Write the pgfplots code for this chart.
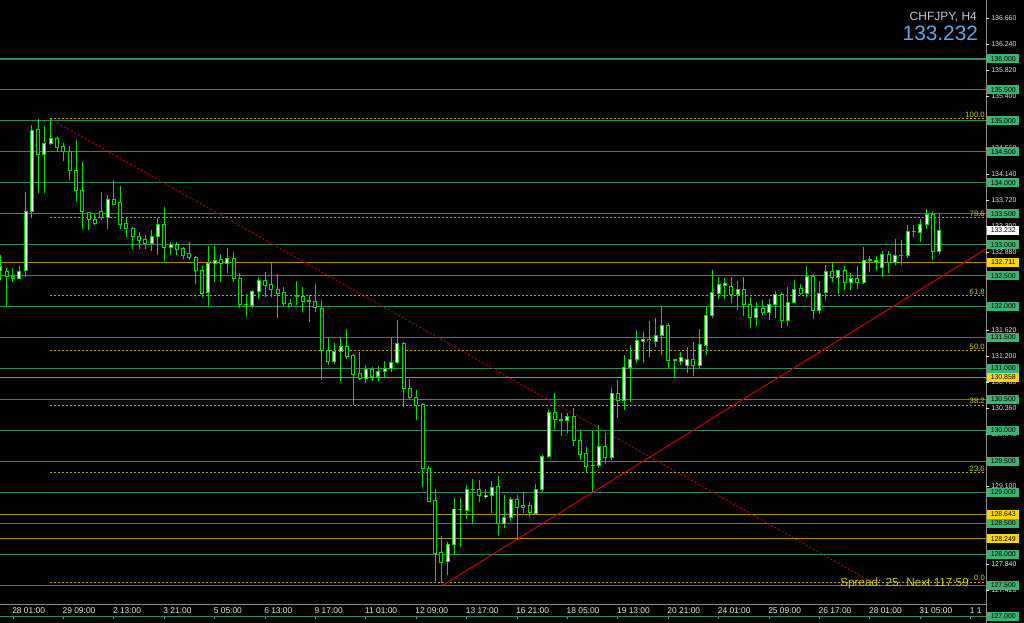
\documentclass[border=0pt]{standalone}
\usepackage{fontspec}
\setmainfont{Liberation Sans}
\usepackage{pgfplots}
\usepackage{pgfplotstable}
\pgfplotsset{compat=1.18}
\definecolor{gridgreen}{RGB}{46,139,87}
\definecolor{boxgreen}{RGB}{60,179,113}
\definecolor{goldline}{RGB}{172,142,16}
\definecolor{boxgold}{RGB}{255,215,0}
\definecolor{fibline}{RGB}{190,170,0}
\definecolor{fibtext}{RGB}{205,205,0}
\definecolor{redline}{RGB}{200,0,0}
\definecolor{reddash}{RGB}{170,0,0}
\definecolor{candle}{RGB}{0,220,0}
\definecolor{titlegray}{RGB}{185,205,225}
\definecolor{pricecol}{RGB}{90,170,235}
\definecolor{tickwhite}{RGB}{230,230,230}
\definecolor{frame}{RGB}{140,140,140}

% H4 bars, i = bar index (0 = 28 01:00)
\pgfplotstableread{
i o h l c
-2 132.58 132.83 132.43 132.64
-1 132.57 132.62 132.00 132.48
0 132.49 132.62 132.39 132.45
1 132.45 132.66 132.44 132.56
2 132.58 133.85 132.48 133.53
3 133.53 134.93 133.43 134.84
4 134.86 135.03 133.84 134.45
5 134.45 134.92 133.84 134.64
6 134.64 135.04 134.61 134.72
7 134.72 134.74 134.50 134.57
8 134.58 134.64 134.35 134.50
9 134.50 134.59 134.04 134.20
10 134.20 134.69 133.70 133.87
11 133.88 134.33 133.26 133.53
12 133.52 133.53 133.23 133.41
13 133.41 133.51 133.32 133.35
14 133.53 133.85 133.40 133.44
15 133.44 133.81 133.25 133.73
16 133.73 134.05 133.64 133.65
17 133.68 133.95 133.26 133.32
18 133.34 133.44 133.13 133.26
19 133.26 133.29 132.93 133.13
20 133.14 133.21 132.93 133.07
21 133.08 133.16 132.93 133.02
22 133.02 133.24 132.89 133.13
23 133.13 133.43 132.83 133.33
24 133.33 133.61 132.73 132.95
25 132.95 133.05 132.83 133.01
26 133.01 133.04 132.83 132.93
27 132.94 132.97 132.77 132.82
28 132.85 133.04 132.75 132.79
29 132.80 132.81 132.36 132.58
30 132.59 132.66 132.16 132.21
31 132.22 132.98 132.00 132.70
32 132.70 132.98 132.39 132.75
33 132.76 132.85 132.40 132.70
34 132.70 132.95 132.54 132.77
35 132.77 132.88 132.40 132.46
36 132.46 132.54 131.97 132.03
37 132.04 132.20 131.84 132.03
38 132.01 132.27 131.97 132.25
39 132.24 132.48 132.13 132.42
40 132.42 132.56 132.16 132.34
41 132.36 132.71 132.16 132.27
42 132.27 132.53 131.81 132.21
43 132.22 132.31 132.01 132.05
44 132.05 132.13 131.99 132.00
45 132.18 132.42 132.03 132.17
46 132.17 132.32 131.92 132.09
47 132.10 132.19 131.75 132.09
48 132.09 132.36 131.92 131.98
49 131.97 132.11 130.81 131.29
50 131.29 131.49 131.06 131.12
51 131.12 131.41 131.08 131.27
52 131.27 131.51 130.79 131.36
53 131.36 131.63 131.16 131.20
54 131.21 131.24 130.41 130.91
55 130.92 131.27 130.81 130.84
56 130.84 131.06 130.76 130.99
57 130.99 131.03 130.80 130.87
58 130.87 131.04 130.80 130.95
59 130.95 131.12 130.84 131.00
60 131.00 131.49 130.95 131.09
61 131.09 131.79 131.08 131.40
62 131.40 131.43 130.37 130.68
63 130.68 130.83 130.49 130.53
64 130.53 130.65 130.17 130.41
65 130.42 130.45 129.09 129.39
66 129.39 129.42 128.84 128.85
67 128.86 129.06 127.56 128.01
68 128.02 128.29 127.53 127.87
69 127.88 128.19 127.66 128.16
70 128.15 128.90 127.98 128.73
71 128.73 128.91 128.12 128.72
72 128.71 129.12 128.57 129.04
73 129.05 129.21 128.50 129.04
74 129.04 129.20 128.85 128.95
75 128.93 129.05 128.89 128.95
76 128.94 129.18 128.66 129.07
77 129.09 129.26 128.29 128.49
78 128.49 128.95 128.43 128.60
79 128.60 128.92 128.54 128.88
80 128.88 128.96 128.23 128.76
81 128.78 129.01 128.67 128.76
82 128.78 128.85 128.60 128.67
83 128.66 129.14 128.63 129.04
84 129.05 129.60 129.01 129.58
85 129.58 130.33 129.55 130.29
86 130.29 130.60 130.02 130.17
87 130.17 130.28 129.91 130.16
88 130.16 130.28 129.95 130.22
89 130.22 130.36 129.74 129.83
90 129.83 129.99 129.52 129.61
91 129.63 129.73 129.33 129.41
92 129.44 129.99 129.00 129.43
93 129.44 130.09 129.40 129.74
94 129.74 129.96 129.46 129.56
95 129.56 130.68 129.52 130.60
96 130.60 130.81 130.20 130.48
97 130.49 131.21 130.33 131.01
98 131.01 131.38 130.46 131.15
99 131.15 131.62 131.09 131.45
100 131.44 131.59 131.09 131.47
101 131.47 131.76 131.19 131.45
102 131.44 131.81 131.35 131.54
103 131.54 132.01 131.22 131.70
104 131.70 131.74 130.99 131.13
105 131.14 131.14 130.85 131.13
106 131.12 131.26 131.06 131.18
107 131.05 131.34 130.93 131.14
108 131.14 131.42 130.88 131.05
109 131.05 131.63 130.99 131.38
110 131.37 132.01 131.22 131.85
111 131.85 132.59 131.81 132.22
112 132.21 132.47 132.13 132.35
113 132.34 132.46 132.13 132.37
114 132.33 132.47 132.05 132.19
115 132.19 132.41 131.94 132.27
116 132.28 132.47 131.84 132.03
117 132.04 132.16 131.66 131.82
118 131.82 132.08 131.68 131.97
119 131.97 132.11 131.86 131.90
120 131.91 132.12 131.78 132.04
121 132.03 132.25 131.81 132.19
122 132.19 132.24 131.66 131.77
123 131.77 132.32 131.68 132.07
124 132.07 132.43 132.05 132.28
125 132.29 132.36 132.19 132.21
126 132.21 132.66 132.16 132.48
127 132.48 132.52 131.80 131.94
128 131.94 132.41 131.88 132.21
129 132.22 132.67 132.11 132.57
130 132.57 132.70 132.40 132.47
131 132.47 132.59 132.20 132.58
132 132.58 132.66 132.27 132.39
133 132.39 132.54 132.27 132.46
134 132.46 132.65 132.28 132.39
135 132.39 132.96 132.37 132.75
136 132.76 132.82 132.56 132.75
137 132.71 132.81 132.59 132.75
138 132.63 132.90 132.47 132.84
139 132.84 132.89 132.55 132.71
140 132.71 133.09 132.67 132.82
141 132.83 133.07 132.67 132.82
142 132.82 133.32 132.78 133.21
143 133.22 133.31 133.13 133.21
144 133.20 133.41 133.05 133.32
145 133.32 133.57 133.25 133.49
146 133.49 133.52 132.76 132.89
147 132.89 133.51 132.85 133.23
}\candles

\begin{document}
\begin{tikzpicture}
\path[use as bounding box, fill=black] (0,0) rectangle (768pt,467.25pt);
\begin{axis}[
  at={(0pt,3pt)}, anchor=south west,
  scale only axis, width=739.5pt, height=464.25pt,
  xmin=-2.063, xmax=154.44, ymin=126.953, ymax=136.953,
  axis line style={draw=none},
  xtick={0,8,...,152}, xticklabels={}, xtick pos=left,
  tick align=inside, major tick length=1.5pt,
  tick style={draw=frame, line width=0.6pt},
  ytick=\empty,
  clip mode=individual,
]
% horizontal levels
\pgfplotsinvokeforeach{127,127.5,128,128.5,129,129.5,130,130.5,131,131.5,132,132.5,133,133.5,134,134.5,135,135.5,136}{
  \addplot[gridgreen, line width=0.8pt] coordinates {(-3,#1) (160,#1)};
}
\pgfplotsinvokeforeach{132.711,130.858,128.643,128.249}{
  \addplot[goldline, line width=1pt] coordinates {(-3,#1) (160,#1)};
}
% fibonacci levels
\pgfplotsinvokeforeach{127.55,129.3165,130.4093,131.2925,132.1757,133.4332,135.035}{
  \addplot[fibline, line width=0.75pt, dash pattern=on 1.5pt off 1.5pt] coordinates {(5.87,#1) (160,#1)};
}
\addplot[reddash, line width=0.75pt, dash pattern=on 1.5pt off 1.5pt] coordinates {(5.87,135.035) (136.3,127.55)};
\addplot[redline, line width=0.75pt] coordinates {(68.25,127.50) (160,133.28)};

% candles
\addplot[candle, line width=0.75pt, quiver={u=0, v=\thisrow{h}-\thisrow{l}}]
  table[x=i, y=l] {\candles};
\addplot[candle, line width=3pt, quiver={u=0, v=abs(\thisrow{c}-\thisrow{o})+0.016}]
  table[x=i, y expr={min(\thisrow{o},\thisrow{c})-0.008}] {\candles};
\addplot[white, line width=1.5pt,
  quiver={u=0, v=\thisrow{c}-\thisrow{o}, every arrow/.append style={shorten <=0.375pt, shorten >=0.375pt}},
  restrict expr to domain={\thisrow{c}-\thisrow{o}}{0.02:100}]
  table[x=i, y=o] {\candles};
\addplot[black, line width=1.5pt,
  quiver={u=0, v=\thisrow{o}-\thisrow{c}, every arrow/.append style={shorten <=0.375pt, shorten >=0.375pt}},
  restrict expr to domain={\thisrow{o}-\thisrow{c}}{0.02:100}]
  table[x=i, y=c] {\candles};

% frame
\draw[frame, line width=0.75pt] (axis cs:-2.063,127.195) -- (axis cs:154.44,127.195);
\draw[frame, line width=0.75pt] (axis cs:154.44,136.96) -- (axis cs:154.44,126.88);

% fib labels
\begin{scope}[every node/.style={anchor=south east, inner sep=0pt, yshift=0.6pt, text=fibtext, font=\fontsize{5.8}{6}\selectfont}]
\node at (axis cs:154.29,127.55) {0.0};
\node at (axis cs:154.29,129.3165) {23.6};
\node at (axis cs:154.29,130.4093) {38.2};
\node at (axis cs:154.29,131.2925) {50.0};
\node at (axis cs:154.29,132.1757) {61.8};
\node at (axis cs:154.29,133.4332) {78.6};
\node at (axis cs:154.29,135.035) {100.0};
\end{scope}
\node[anchor=base east, inner sep=0pt, text=fibtext, font=\fontsize{8.8}{10}\selectfont] at (axis cs:151.75,127.486) {Spread: 25. Next 117:59};

% price scale
\pgfplotsinvokeforeach{127.420,127.840,129.100,129.940,130.360,130.780,131.200,131.620,132.460,132.880,133.300,133.720,134.140,134.560,135.400,135.820,136.240,136.660}{
  \draw[tickwhite, line width=0.6pt] (axis cs:154.44,#1) -- (axis cs:154.92,#1);
  \node[anchor=west, inner sep=0pt, text=tickwhite, font=\fontsize{5.2}{6}\selectfont] at (axis cs:155.24,#1) {#1};
}
\pgfplotsinvokeforeach{127.000,127.500,128.000,128.500,129.000,129.500,130.000,130.500,131.000,131.500,132.000,132.500,133.000,133.500,134.000,134.500,135.000,135.500,136.000}{
  \node[anchor=west, inner sep=0pt, fill=boxgreen, minimum width=24pt, minimum height=6.75pt, text=black, font=\fontsize{5.2}{6}\selectfont] at (axis cs:154.60,#1) {#1};
}
\pgfplotsinvokeforeach{132.711,130.858,128.643,128.249}{
  \node[anchor=west, inner sep=0pt, fill=boxgold, minimum width=24pt, minimum height=6.75pt, text=black, font=\fontsize{5.2}{6}\selectfont] at (axis cs:154.60,#1) {#1};
}
\node[anchor=west, inner sep=0pt, fill=white, minimum width=24pt, minimum height=6.75pt, text=black, font=\fontsize{5.2}{6}\selectfont] at (axis cs:154.60,133.232) {133.232};

% time scale
\begin{scope}[every node/.style={anchor=base west, inner sep=0pt, text=tickwhite, font=\fontsize{6.3}{7}\selectfont}]
\node at (axis cs:-0.16,127.034) {28 01:00};
\node at (axis cs:7.84,127.034) {29 09:00};
\node at (axis cs:15.84,127.034) {2 13:00};
\node at (axis cs:23.84,127.034) {3 21:00};
\node at (axis cs:31.84,127.034) {5 05:00};
\node at (axis cs:39.84,127.034) {6 13:00};
\node at (axis cs:47.84,127.034) {9 17:00};
\node at (axis cs:55.84,127.034) {11 01:00};
\node at (axis cs:63.84,127.034) {12 09:00};
\node at (axis cs:71.84,127.034) {13 17:00};
\node at (axis cs:79.84,127.034) {16 21:00};
\node at (axis cs:87.84,127.034) {18 05:00};
\node at (axis cs:95.84,127.034) {19 13:00};
\node at (axis cs:103.84,127.034) {20 21:00};
\node at (axis cs:111.84,127.034) {24 01:00};
\node at (axis cs:119.84,127.034) {25 09:00};
\node at (axis cs:127.84,127.034) {26 17:00};
\node at (axis cs:135.84,127.034) {28 01:00};
\node at (axis cs:143.84,127.034) {31 05:00};
\node at (axis cs:151.84,127.034) {1 1};
\end{scope}

% title
\node[anchor=base east, inner sep=0pt, text=titlegray, font=\fontsize{9}{10}\selectfont] at (axis cs:153.03,136.619) {CHFJPY, H4};
\node[anchor=base east, inner sep=0pt, text=pricecol, font=\fontsize{15.6}{17}\selectfont] at (axis cs:153.2,136.296) {133.232};
\end{axis}
\end{tikzpicture}
\end{document}
